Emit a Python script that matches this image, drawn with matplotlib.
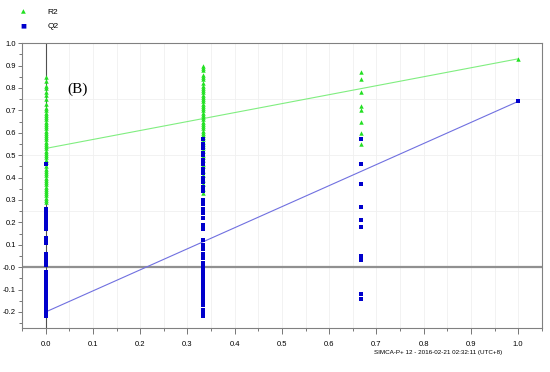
import numpy as np
import matplotlib.pyplot as plt
from matplotlib.ticker import FixedLocator

plt.rcParams['font.family'] = ['Liberation Sans', 'DejaVu Sans']

# correlation of permuted Y with original Y
x_levels = [0.0, 1 / 3, 2 / 3, 1.0]

r2_at_0 = [0.85, 0.83, 0.81, 0.80, 0.78, 0.77, 0.75, 0.73, 0.71, 0.70, 0.69, 0.68,
           0.67, 0.66, 0.65, 0.64, 0.63, 0.62, 0.61, 0.60, 0.59, 0.58, 0.57, 0.56,
           0.55, 0.54, 0.53, 0.52, 0.51, 0.50, 0.49, 0.48, 0.47, 0.45, 0.44, 0.43,
           0.42, 0.41, 0.40, 0.39, 0.38, 0.37, 0.36, 0.35, 0.34, 0.33, 0.32, 0.31,
           0.30, 0.29]
q2_at_0 = [0.46, 0.26, 0.25, 0.24, 0.23, 0.22, 0.20, 0.19, 0.18, 0.17, 0.13, 0.12,
           0.11, 0.06, 0.05, 0.04, 0.03, 0.02, 0.01, -0.02, -0.03, -0.04, -0.05,
           -0.06, -0.07, -0.08, -0.09, -0.10, -0.11, -0.12, -0.13, -0.14, -0.15,
           -0.16, -0.17, -0.18, -0.19, -0.20, -0.21, -0.22]

r2_at_1 = [0.90, 0.89, 0.88, 0.86, 0.85, 0.84, 0.82, 0.81, 0.80, 0.79, 0.78, 0.77,
           0.76, 0.75, 0.74, 0.73, 0.72, 0.71, 0.70, 0.69, 0.68, 0.67, 0.66, 0.65,
           0.64, 0.63, 0.62, 0.61, 0.60, 0.59, 0.58, 0.57, 0.56, 0.55, 0.54, 0.53,
           0.52, 0.50, 0.49, 0.48, 0.46, 0.45, 0.43, 0.41, 0.39, 0.37, 0.35, 0.33]
q2_at_1 = [0.57, 0.55, 0.53, 0.51, 0.50, 0.48, 0.46, 0.44, 0.42, 0.40, 0.38, 0.36,
           0.34, 0.30, 0.28, 0.26, 0.24, 0.22, 0.19, 0.17, 0.12, 0.10, 0.08, 0.06,
           0.04, 0.02, 0.00, -0.01, -0.02, -0.03, -0.04, -0.05, -0.06, -0.07, -0.08,
           -0.09, -0.10, -0.11, -0.12, -0.13, -0.14, -0.15, -0.16, -0.17, -0.19,
           -0.20, -0.21, -0.22]

r2_at_2 = [0.87, 0.84, 0.78, 0.72, 0.70, 0.65, 0.60, 0.55]
q2_at_2 = [0.57, 0.46, 0.37, 0.27, 0.21, 0.18, 0.05, 0.03, -0.12, -0.14]

r2_at_3 = [0.93]
q2_at_3 = [0.74]

# regression lines: value at x=0 and at x=1
r2_line = [0.53, 0.93]
q2_line = [-0.20, 0.74]

r2_cols = [r2_at_0, r2_at_1, r2_at_2, r2_at_3]
q2_cols = [q2_at_0, q2_at_1, q2_at_2, q2_at_3]

green = '#22e022'
blue = '#0000cc'

fig = plt.figure(figsize=(5.5, 3.72), dpi=100)
ax = fig.add_axes([0.04, 0.118, 0.945, 0.766])

ax.set_xlim(-0.05, 1.05)
ax.set_ylim(-0.272, 1.0)

# faint grid
for gx in np.arange(0.05, 1.05, 0.05):
    ax.axvline(gx, color='#f0f0f0', lw=0.6, zorder=0)
for gy in [0.25, 0.5, 0.75]:
    ax.axhline(gy, color='#f0f0f0', lw=0.6, zorder=0)

ax.axhline(0, color='#909090', lw=1.6, zorder=1)
ax.axvline(0, color='#505050', lw=0.8, zorder=1)

ax.plot([0, 1], r2_line, color='#80ee80', lw=0.8, zorder=2)
ax.plot([0, 1], q2_line, color='#7070e0', lw=0.8, zorder=2)

for xv, col in zip(x_levels, r2_cols):
    ax.plot([xv] * len(col), col, '^', color=green, markersize=3.2,
            markeredgewidth=0, zorder=3)
for xv, col in zip(x_levels, q2_cols):
    ax.plot([xv] * len(col), col, 's', color=blue, markersize=3.0,
            markeredgewidth=0, zorder=4)

ax.text(0.045, 0.795, '(B)', family='Liberation Serif', fontsize=11, va='center')

ax.xaxis.set_major_locator(FixedLocator(np.arange(0, 1.01, 0.1)))
ax.xaxis.set_minor_locator(FixedLocator(np.arange(-0.05, 1.06, 0.05)))
ax.yaxis.set_major_locator(FixedLocator(np.arange(-0.2, 1.01, 0.1)))
ax.yaxis.set_minor_locator(FixedLocator(np.arange(-0.25, 1.0, 0.05)))
ax.set_xticklabels(['%.1f' % v for v in np.arange(0, 1.01, 0.1)])
ylabels = []
for v in np.arange(-0.2, 1.01, 0.1):
    ylabels.append('-0.0' if abs(v) < 1e-9 else '%.1f' % v)
ax.set_yticklabels(ylabels)

ax.tick_params(axis='x', which='major', length=4, width=0.6, color='#606060',
               labelsize=5.5, pad=5)
ax.tick_params(axis='y', which='major', length=3, width=0.6, color='#606060',
               labelsize=5.5, pad=1.5)
ax.tick_params(which='minor', length=2.5, width=0.6, color='#606060')
for s in ax.spines.values():
    s.set_color('#808080')
    s.set_linewidth(0.8)

# legend above the plot
fig.text(0.042, 0.968, '\u25B2', color=green, fontsize=4.5, ha='center', va='center',
         family='DejaVu Sans')
fig.text(0.087, 0.966, 'R2', fontsize=6, va='center')
fig.text(0.042, 0.930, '\u25A0', color=blue, fontsize=4.5, ha='center', va='center',
         family='DejaVu Sans')
fig.text(0.087, 0.928, 'Q2', fontsize=6, va='center')

fig.text(0.68, 0.052, 'SIMCA-P+ 12 - 2016-02-21 02:32:11 (UTC+8)', fontsize=4.5,
         va='center')

fig.savefig('out.png', dpi=100)
